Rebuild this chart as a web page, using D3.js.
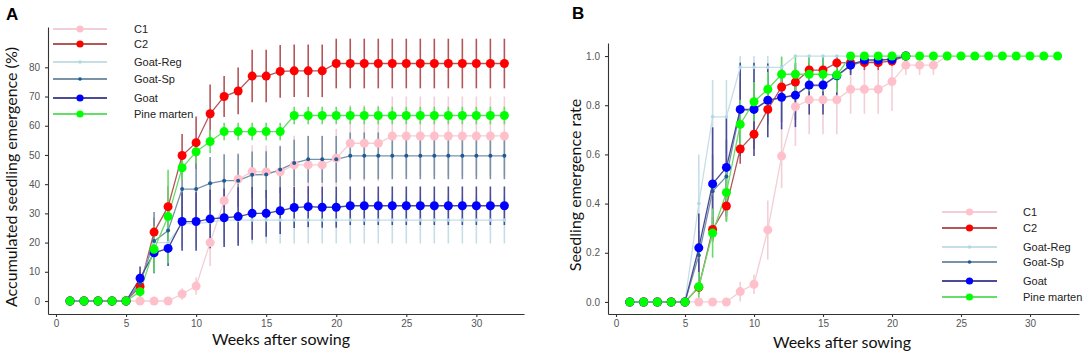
<html>
<head>
<meta charset="utf-8">
<title>Seedling emergence</title>
<style type="text/css">
body { margin: 0; background: #fff; }
.axis text { font-family: "Liberation Sans", Arial, sans-serif; font-size: 10px; fill: #555; }
.axis path, .axis line { stroke: #333; stroke-width: 1.1; }
.lab { font-family: Lato, "Open Sans", sans-serif; font-size: 16px; fill: #111; }
.leg { font-family: "Liberation Sans", Arial, sans-serif; font-size: 11px; fill: #222; }
.ttl { font-family: "Liberation Sans", Arial, sans-serif; font-size: 17px; font-weight: bold; }
</style>
</head>
<body>
<script src="https://d3js.org/d3.v7.min.js"></script>
<script>

// series names, in legend order
var groups = ["C1", "C2", "Goat-Reg", "Goat-Sp", "Goat", "Pine marten"];

// --- panel A: accumulated emergence (%), weeks 1..32
var c1A  = [0,0,0,0,0,0,0,0,2.4,5.1,20,34.3,41.7,44.3,44.2,44.2,46.6,46.6,46.6,48.9,54,54,54,56.5,56.5,56.5,56.5,56.5,56.5,56.5,56.5,56.5];
var c1AErr = [0,0,0,0,0,0,0,0,2,3,8,9,9,9,9,9,10,10,10,10,13,13,13,13.5,13.5,13.5,13.5,13.5,13.5,13.5,13.5,13.5];
var c2A  = [0,0,0,0,0,5,23.6,32.3,49.8,54.2,64.1,70,71.9,77,77,78.6,78.8,78.8,78.8,81.3,81.3,81.3,81.3,81.3,81.3,81.3,81.3,81.3,81.3,81.3,81.3,81.3];
var c2AErr = [0,0,0,0,0,2,5,7,7.4,9,10,7,8,9,9,9,9,9,9,8.5,8.5,8.5,8.5,8.5,8.5,8.5,8.5,8.5,8.5,8.5,8.5,8.5];
var regA = [0,0,0,0,0,6.5,20,20,26.5,26.5,27,27.7,27.7,27.7,27.7,27.7,27.7,27.7,27.7,27.7,27.7,27.7,27.7,27.7,27.7,27.7,27.7,27.7,27.7,27.7,27.7,27.7];
var regAErr = [0,0,0,0,0,3,5,6,8,8,8,8,8,8,8,8,8,8,8,8,8,8,8,8,8,8,8,8,8,8,8,8];
var spA  = [0,0,0,0,0,6,20.5,24.1,38.3,38.3,40.3,41.2,41.2,43.2,43.3,45,47.2,48.5,48.5,48.5,49.7,49.7,49.7,49.7,49.7,49.7,49.7,49.7,49.7,49.7,49.7,49.7];
var spAErr = [0,0,0,0,0,4,10,9,10,10,9,9,9,8,8,8,8,8,8,8,8,8,8,8,8,8,8,8,8,8,8,8];
var goatA = [0,0,0,0,0,7.8,16.5,18,27.2,27.2,28.1,28.5,28.9,30,30,30.9,32,32.3,32.1,32.1,32.6,32.6,32.6,32.6,32.6,32.6,32.6,32.6,32.6,32.6,32.6,32.6];
var goatAErr = [0,0,0,0,0,4,7,6,10,10,10,10,10,9,8,8,7,7,7,7,6.6,6.6,6.6,6.6,6.6,6.6,6.6,6.6,6.6,6.6,6.6,6.6];
var pineA = [0,0,0,0,0,3.2,17.7,28.9,45.6,51.1,54.6,58,58,58,58,58,63.5,63.5,63.5,63.5,63.5,63.5,63.5,63.5,63.5,63.5,63.5,63.5,63.5,63.5,63.5,63.5];
var pineAErr = [0,0,0,0,0,2,8,16,4,4,4,3,3,3,3,3,3,3,3,3,3,3,3,3,3,3,3,3,3,3,3,3];
var ticksAY = [0,10,20,30,40,50,60,70,80];

// --- panel B: emergence rate, weeks from 1 (series end where they were measured)
var c1B  = [0,0,0,0,0,0,0,0,0.042,0.072,0.293,0.593,0.794,0.822,0.822,0.822,0.865,0.865,0.865,0.896,0.963,0.963,0.963,1];
var c1BErr = [0,0,0,0,0,0,0,0,0.04,0.04,0.12,0.13,0.16,0.14,0.14,0.14,0.1,0.1,0.1,0.12,0.04,0.04,0.04,0];
var c2B  = [0,0,0,0,0,0.06,0.295,0.39,0.622,0.682,0.783,0.874,0.894,0.943,0.943,0.972,0.973,0.973,0.973,0.98,1];
var c2BErr = [0,0,0,0,0,0.03,0.05,0.06,0.06,0.06,0.05,0.04,0.04,0.03,0.03,0.03,0.03,0.03,0.03,0.02,0];
var regB = [0,0,0,0,0,0.40,0.753,0.753,0.954,0.954,0.954,0.954,1,1,1,1,1];
var regBErr = [0,0,0,0,0,0.2,0.15,0.15,0.05,0.05,0.05,0.05,0,0,0,0,0];
var spB  = [0,0,0,0,0,0.19,0.45,0.51,0.78,0.78,0.82,0.83,0.84,0.88,0.88,0.92,0.96,0.98,0.98,0.99,1];
var spBErr = [0,0,0,0,0,0.1,0.15,0.15,0.12,0.12,0.1,0.1,0.1,0.08,0.08,0.05,0.03,0.02,0.02,0.01,0];
var goatB = [0,0,0,0,0,0.22,0.48,0.547,0.783,0.783,0.82,0.832,0.841,0.882,0.882,0.92,0.963,0.984,0.984,0.986,1];
var goatBErr = [0,0,0,0,0,0.14,0.23,0.2,0.19,0.19,0.15,0.13,0.13,0.12,0.12,0.08,0.04,0.02,0.02,0.01,0];
var pineB = [0,0,0,0,0,0.062,0.28,0.445,0.722,0.814,0.865,0.926,0.926,0.926,0.926,0.923,1,1,1,1,1,1,1,1,1,1,1,1,1,1,1,1];
var pineBErr = [0,0,0,0,0,0.06,0.1,0.12,0.1,0.08,0.07,0.07,0.07,0.07,0.07,0.07,0,0,0,0,0,0,0,0,0,0,0,0,0,0,0,0];
var ticksBY = [0, 0.2, 0.4, 0.6, 0.8, 1.0];

var ticksX = [0,5,10,15,20,25,30];

// point fill, line/errorbar colour, point size for each group
var fillCol = d3.scaleOrdinal().domain(groups)
    .range(["#ffc0cb", "#ff0000", "#add8e6", "#1d5a96", "#0000ff", "#00ff00"]);
var lineCol = d3.scaleOrdinal().domain(groups)
    .range(["#f2cfd6", "#b2565a", "#c6dfe6", "#7892a8", "#4b4b98", "#66dd66"]);
var ptR = d3.scaleOrdinal().domain(groups).range([4.5, 4.5, 1.8, 2, 4.5, 4.5]);

var svg = d3.select("body").append("svg")
    .attr("width", 1084)
    .attr("height", 355);

function toRows(vals, errs) {
  return vals.map(function(v, i) { return {w: i + 1, v: v, e: errs[i]}; });
}

function drawPanel(p) {
  var x = d3.scaleLinear().domain(p.xDom).range(p.xRange);
  var y = d3.scaleLinear().domain(p.yDom).range(p.yRange);
  var g = svg.append("g");

  // error bars first, then lines, then points
  var layers = ["err", "line", "pt"];
  layers.forEach(function(layer) {
    p.series.forEach(function(s, k) {
      var rows = toRows(s.vals, s.errs);
      var name = groups[k];
      if (layer == "err") {
        g.selectAll(null).data(rows.filter(function(d) { return d.e > 0; }))
          .enter().append("line")
          .attr("x1", function(d) { return x(d.w); })
          .attr("x2", function(d) { return x(d.w); })
          .attr("y1", function(d) { return y(d.v - d.e); })
          .attr("y2", function(d) { return y(Math.min(d.v + d.e, p.cap)); })
          .attr("stroke", lineCol(name))
          .attr("stroke-width", 1.6);
      } else if (layer == "line") {
        g.append("path").datum(rows)
          .attr("fill", "none")
          .attr("stroke", lineCol(name))
          .attr("stroke-width", 1.3)
          .attr("d", d3.line().x(function(d) { return x(d.w); }).y(function(d) { return y(d.v); }));
      } else {
        g.selectAll(null).data(rows)
          .enter().append("circle")
          .attr("cx", function(d) { return x(d.w); })
          .attr("cy", function(d) { return y(d.v); })
          .attr("r", ptR(name))
          .attr("fill", fillCol(name));
      }
    });
  });

  // axes
  g.append("g")
      .attr("class", "axis")
      .attr("transform", "translate(0," + p.yRange[0] + ")")
      .call(d3.axisBottom(x).tickValues(ticksX).tickSize(3).tickSizeOuter(0).tickPadding(3));
  g.append("g")
      .attr("class", "axis")
      .attr("transform", "translate(" + p.xRange[0] + ",0)")
      .call(d3.axisLeft(y).tickValues(p.yTicks).tickSize(3).tickSizeOuter(0).tickPadding(5)
        .tickFormat(p.yFmt));

  // legend
  var leg = g.append("g");
  groups.forEach(function(name, k) {
    var yy = p.legY[k];
    leg.append("line")
      .attr("x1", p.legX[0]).attr("x2", p.legX[1])
      .attr("y1", yy).attr("y2", yy)
      .attr("stroke", lineCol(name)).attr("stroke-width", 1.8);
    leg.append("circle")
      .attr("cx", (p.legX[0] + p.legX[1]) / 2).attr("cy", yy)
      .attr("r", ptR(name) > 3 ? 3.6 : 1.8)
      .attr("fill", fillCol(name));
    leg.append("text")
      .attr("class", "leg")
      .attr("x", p.legX[2]).attr("y", yy + 4)
      .text(name);
  });

  // labels
  g.append("text").attr("class", "ttl").attr("x", p.title[1]).attr("y", p.title[2]).text(p.title[0]);
  g.append("text").attr("class", "lab")
      .attr("text-anchor", "middle")
      .attr("x", p.xLab[1]).attr("y", p.xLab[2])
      .text(p.xLab[0]);
  g.append("text").attr("class", "lab")
      .attr("text-anchor", "middle")
      .attr("transform", "translate(" + p.yLab[1] + "," + p.yLab[2] + ") rotate(-90)")
      .text(p.yLab[0]);
}

drawPanel({
  series: [
    {vals: c1A, errs: c1AErr}, {vals: c2A, errs: c2AErr}, {vals: regA, errs: regAErr},
    {vals: spA, errs: spAErr}, {vals: goatA, errs: goatAErr}, {vals: pineA, errs: pineAErr}
  ],
  xDom: [-0.57, 33.4], xRange: [48, 524],
  yDom: [-4.45, 93.8], yRange: [314, 27],
  yTicks: ticksAY, yFmt: d3.format("d"), cap: 1000,
  legX: [53, 107, 134], legY: [29, 44, 62, 79, 98, 114],
  title: ["A", 6, 20],
  xLab: ["Weeks after sowing", 281, 345],
  yLab: ["Accumulated seedling emergence (%)", 17, 177]
});

drawPanel({
  series: [
    {vals: c1B, errs: c1BErr}, {vals: c2B, errs: c2BErr}, {vals: regB, errs: regBErr},
    {vals: spB, errs: spBErr}, {vals: goatB, errs: goatBErr}, {vals: pineB, errs: pineBErr}
  ],
  xDom: [-0.58, 33.55], xRange: [608, 1079],
  yDom: [-0.049, 1.053], yRange: [314, 43],
  yTicks: ticksBY, yFmt: d3.format(".1f"), cap: 1.0,
  legX: [942, 997, 1023], legY: [212, 228, 247, 262, 281, 297],
  title: ["B", 572, 19],
  xLab: ["Weeks after sowing", 842, 348],
  yLab: ["Seedling emergence rate", 581, 185]
});

</script>
</body>
</html>
